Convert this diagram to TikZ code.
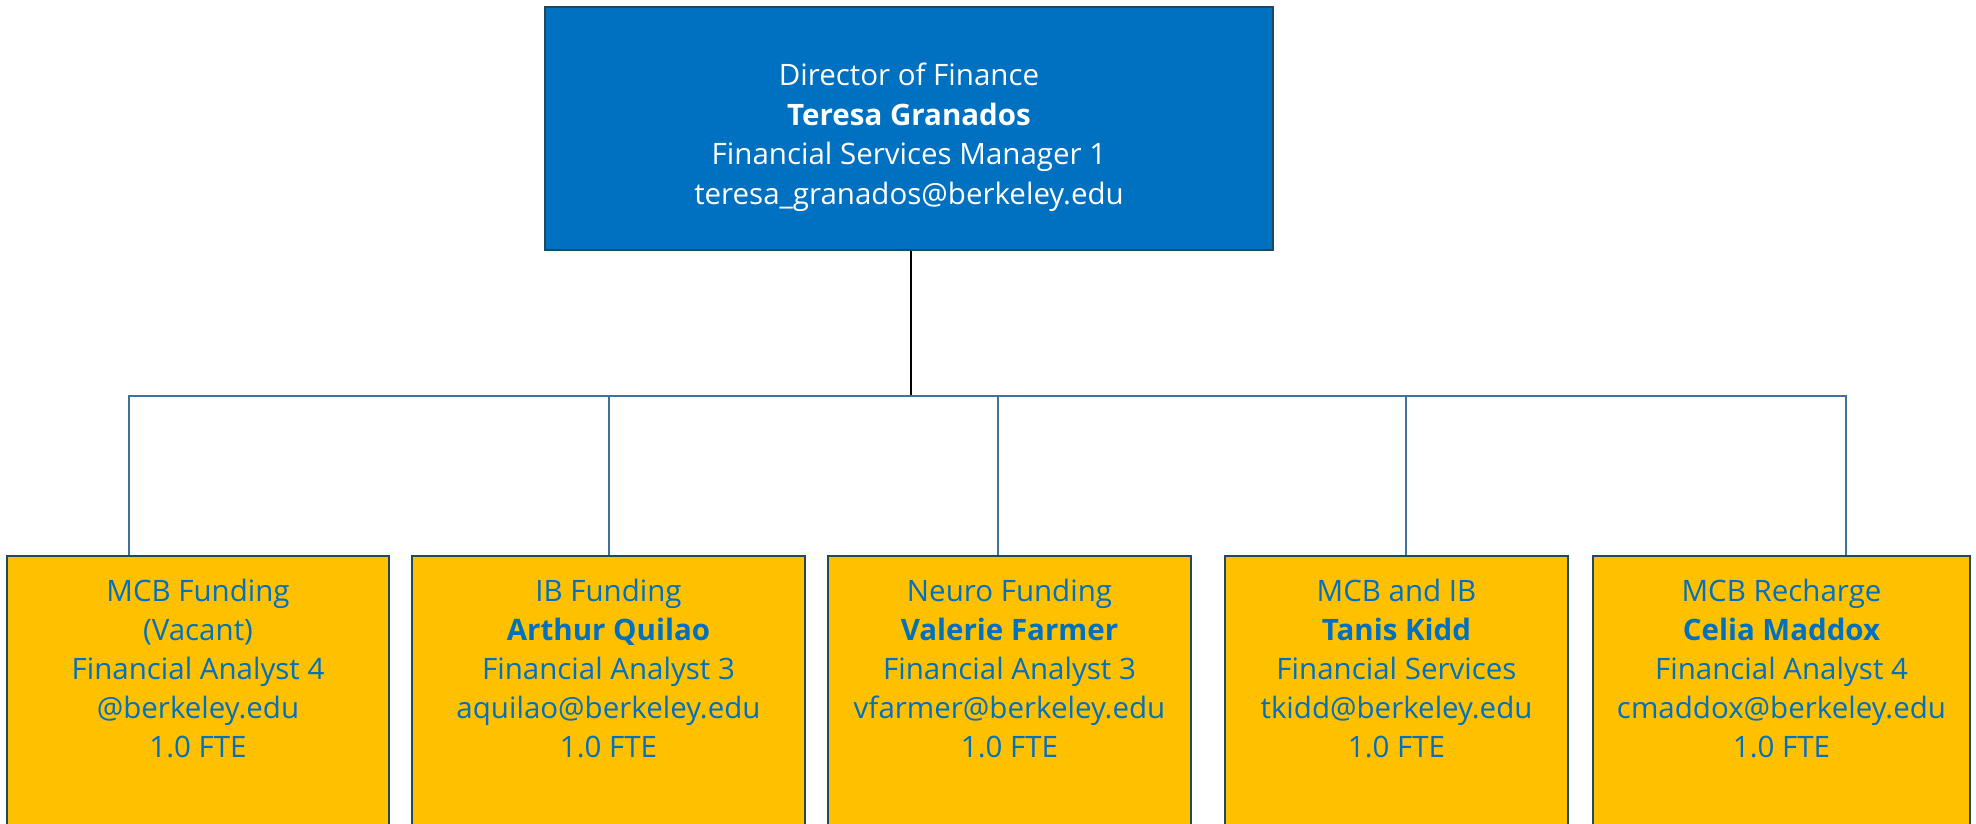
\documentclass[tikz,border=0pt]{standalone}
\usepackage{fontspec}
\setmainfont{Open Sans}
\usepackage{tikz}
\usetikzlibrary{positioning}
\definecolor{dirblue}{HTML}{0070C0}
\definecolor{staffgold}{HTML}{FFC000}
\definecolor{edgeteal}{HTML}{1F4A5E}
\definecolor{busblue}{HTML}{41719C}
\tikzset{
  dirbox/.style={draw=edgeteal, line width=2.5pt, fill=dirblue, minimum width=728pt, minimum height=243pt, inner sep=0pt},
  staffbox/.style={draw=edgeteal, line width=2.5pt, fill=staffgold, minimum height=344pt, inner sep=0pt},
  dirtxt/.style={inner sep=0pt, align=center, text=white, font=\fontsize{29.5}{39.5}\selectfont},
  stafftxt/.style={inner sep=0pt, align=center, text=dirblue, font=\fontsize{29.5}{38.8}\selectfont},
  busline/.style={draw=busblue, line width=1.5pt},
  stemline/.style={draw=black, line width=1.5pt}
}

\begin{document}
\begin{tikzpicture}[x=1pt,y=-1pt]
\useasboundingbox (0,0) rectangle (1976,823);
\clip (0,0) rectangle (1976,823);
%
\node[dirbox] (dir) at (909,128.5) {};
\node[dirtxt, below=57pt of dir.north] (dirtext) {Director of Finance\\\textbf{Teresa Granados}\\Financial Services Manager 1\\teresa\_granados@berkeley.edu};
%
\node[staffbox, minimum width=382pt] (mcb) at (198,728) {};
\node[staffbox, minimum width=393pt] (ib) at (608.5,728) {};
\node[staffbox, minimum width=363pt] (neuro) at (1009.5,728) {};
\node[staffbox, minimum width=343pt] (mcbib) at (1396.5,728) {};
\node[staffbox, minimum width=377pt] (recharge) at (1781.5,728) {};
%
\node[stafftxt, below=24.5pt of mcb.north] (mcbtext) {MCB Funding\\(Vacant)\\Financial Analyst 4\\@berkeley.edu\\1.0 FTE};
\node[stafftxt, below=24.5pt of ib.north] (ibtext) {IB Funding\\\textbf{Arthur Quilao}\\Financial Analyst 3\\aquilao@berkeley.edu\\1.0 FTE};
\node[stafftxt, below=24.5pt of neuro.north] (neurotext) {Neuro Funding\\\textbf{Valerie Farmer}\\Financial Analyst 3\\vfarmer@berkeley.edu\\1.0 FTE};
\node[stafftxt, below=24.5pt of mcbib.north] (mcbibtext) {MCB and IB\\\textbf{Tanis Kidd}\\Financial Services\\tkidd@berkeley.edu\\1.0 FTE};
\node[stafftxt, below=24.5pt of recharge.north] (rechargetext) {MCB Recharge\\\textbf{Celia Maddox}\\Financial Analyst 4\\cmaddox@berkeley.edu\\1.0 FTE};
%
\coordinate (hub) at (911,396);
\draw[stemline] ([xshift=2pt]dir.south) -- (hub);
%
\foreach \Box/\Shift in {%
	mcb/123,
	ib/198,
	neuro/171,
	mcbib/182,
	recharge/254%
    }
\draw[busline] ([xshift=\Shift pt]\Box.north west) |- (hub);
\end{tikzpicture}
\end{document}
